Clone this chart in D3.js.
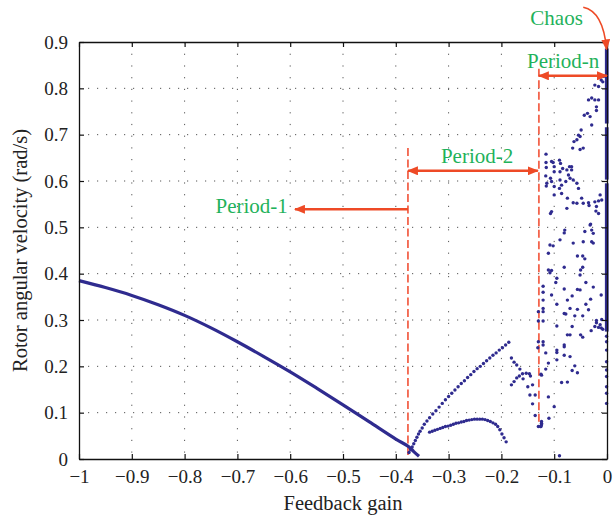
<!DOCTYPE html>
<html>
<head>
<meta charset="utf-8">
<script src="https://cdn.jsdelivr.net/npm/d3@7"></script>
<style>
  body { margin: 0; background: #fff; }
  svg { display: block; }
  svg text { font-family: "Liberation Serif", "Times New Roman", "DejaVu Serif", serif; }
</style>
</head>
<body>
<svg id="chart"></svg>
<script>
// axis ticks
const xTicks = [-1, -0.9, -0.8, -0.7, -0.6, -0.5, -0.4, -0.3, -0.2, -0.1, 0]
const yTicks = [0, 0.1, 0.2, 0.3, 0.4, 0.5, 0.6, 0.7, 0.8, 0.9]

// period-1 branch [gain, speed], sampled densely -> drawn as a thick line
const period1 = [
  [-1, 0.385], [-0.95, 0.370], [-0.9, 0.353], [-0.85, 0.333], [-0.8, 0.310],
  [-0.75, 0.283], [-0.7, 0.253], [-0.65, 0.221], [-0.6, 0.188], [-0.55, 0.153],
  [-0.5, 0.117], [-0.45, 0.080], [-0.4, 0.043], [-0.376, 0.027], [-0.366, 0.016],
  [-0.356, 0.006]
]

// period-2, rising branch
const period2Upper = [
  [-0.375, 0.014], [-0.372, 0.020], [-0.369, 0.026], [-0.366, 0.033], [-0.363, 0.040],
  [-0.360, 0.047], [-0.357, 0.054], [-0.354, 0.060], [-0.350, 0.067], [-0.346, 0.075],
  [-0.341, 0.082], [-0.336, 0.089], [-0.330, 0.097], [-0.324, 0.104], [-0.318, 0.112],
  [-0.312, 0.120], [-0.306, 0.128], [-0.300, 0.135], [-0.294, 0.142], [-0.288, 0.149],
  [-0.282, 0.156], [-0.276, 0.163], [-0.270, 0.169], [-0.264, 0.176], [-0.258, 0.182],
  [-0.252, 0.189], [-0.246, 0.195], [-0.240, 0.200], [-0.234, 0.206], [-0.228, 0.212],
  [-0.222, 0.218], [-0.216, 0.224], [-0.210, 0.229], [-0.204, 0.235], [-0.198, 0.240],
  [-0.192, 0.246], [-0.186, 0.252]
]

// period-2, lower arc
const period2Lower = [
  [-0.336, 0.058], [-0.331, 0.060], [-0.326, 0.062], [-0.321, 0.064], [-0.316, 0.066],
  [-0.311, 0.068], [-0.306, 0.070], [-0.301, 0.071], [-0.296, 0.073], [-0.291, 0.075],
  [-0.286, 0.077], [-0.281, 0.078], [-0.276, 0.080], [-0.271, 0.081], [-0.266, 0.083],
  [-0.261, 0.084], [-0.256, 0.085], [-0.251, 0.086], [-0.246, 0.086], [-0.241, 0.086],
  [-0.236, 0.086], [-0.231, 0.085], [-0.226, 0.083], [-0.221, 0.081], [-0.216, 0.078],
  [-0.211, 0.075], [-0.207, 0.070], [-0.203, 0.063], [-0.199, 0.054], [-0.195, 0.046],
  [-0.191, 0.037]
]

// branches between -0.18 and -0.12
const midBranchA = [
  [-0.181, 0.218], [-0.176, 0.209], [-0.171, 0.203], [-0.165, 0.194], [-0.159, 0.173],
  [-0.150, 0.156], [-0.146, 0.138], [-0.141, 0.119], [-0.136, 0.094], [-0.130, 0.070],
  [-0.125, 0.070], [-0.124, 0.081]
]
const midBranchB = [
  [-0.181, 0.160], [-0.176, 0.167], [-0.171, 0.175], [-0.166, 0.179], [-0.160, 0.184],
  [-0.153, 0.185], [-0.147, 0.184], [-0.145, 0.179], [-0.141, 0.160], [-0.136, 0.138]
]

// period-n / chaos scatter
const chaosPoints = [
  [-0.130, 0.318], [-0.130, 0.298], [-0.130, 0.253], [-0.131, 0.240], [-0.125, 0.183],
  [-0.124, 0.181], [-0.124, 0.077], [-0.124, 0.074], [-0.126, 0.070], [-0.121, 0.373],
  [-0.121, 0.360], [-0.121, 0.343], [-0.121, 0.325], [-0.121, 0.318], [-0.121, 0.298],
  [-0.121, 0.253], [-0.121, 0.246], [-0.1155, 0.658], [-0.1155, 0.640], [-0.115, 0.629],
  [-0.116, 0.611], [-0.114, 0.595], [-0.115, 0.589], [-0.105, 0.642], [-0.102, 0.640],
  [-0.100, 0.631], [-0.100, 0.620], [-0.107, 0.606], [-0.105, 0.599], [-0.100, 0.588],
  [-0.100, 0.570], [-0.090, 0.645], [-0.088, 0.638], [-0.084, 0.627], [-0.089, 0.620],
  [-0.089, 0.602], [-0.086, 0.591], [-0.090, 0.584], [-0.086, 0.573], [-0.076, 0.624],
  [-0.071, 0.631], [-0.067, 0.631], [-0.067, 0.624], [-0.073, 0.613], [-0.070, 0.606],
  [-0.078, 0.599], [-0.075, 0.563], [-0.065, 0.671], [-0.0625, 0.685], [-0.057, 0.689],
  [-0.051, 0.668], [-0.045, 0.671], [-0.054, 0.699], [-0.049, 0.710], [-0.051, 0.696],
  [-0.043, 0.742], [-0.037, 0.746], [-0.032, 0.739], [-0.029, 0.721], [-0.035, 0.775],
  [-0.029, 0.779], [-0.023, 0.775], [-0.016, 0.775], [-0.020, 0.760], [-0.020, 0.752],
  [-0.023, 0.807], [-0.016, 0.804], [-0.011, 0.818], [-0.008, 0.814], [-0.006, 0.826],
  [-0.064, 0.602], [-0.057, 0.595], [-0.054, 0.584], [-0.076, 0.541], [-0.064, 0.553],
  [-0.057, 0.552], [-0.048, 0.563], [-0.045, 0.552], [-0.035, 0.553], [-0.034, 0.547],
  [-0.023, 0.555], [-0.016, 0.557], [-0.010, 0.559], [-0.020, 0.545], [-0.016, 0.530],
  [-0.013, 0.570], [-0.105, 0.534], [-0.107, 0.530], [-0.080, 0.494], [-0.081, 0.488],
  [-0.089, 0.473], [-0.108, 0.462], [-0.102, 0.460], [-0.111, 0.444], [-0.032, 0.505],
  [-0.029, 0.494], [-0.042, 0.491], [-0.045, 0.469], [-0.029, 0.469], [-0.064, 0.466],
  [-0.031, 0.507], [-0.026, 0.487], [-0.026, 0.466], [-0.021, 0.535], [-0.111, 0.408],
  [-0.105, 0.407], [-0.108, 0.402], [-0.095, 0.390], [-0.097, 0.381], [-0.105, 0.354],
  [-0.095, 0.334], [-0.081, 0.414], [-0.056, 0.438], [-0.046, 0.438], [-0.042, 0.432],
  [-0.050, 0.408], [-0.051, 0.397], [-0.046, 0.414], [-0.081, 0.367], [-0.075, 0.343],
  [-0.066, 0.352], [-0.056, 0.366], [-0.051, 0.365], [-0.040, 0.381], [-0.026, 0.371],
  [-0.031, 0.345], [-0.040, 0.334], [-0.035, 0.322], [-0.011, 0.354], [-0.095, 0.287],
  [-0.081, 0.314], [-0.078, 0.313], [-0.070, 0.325], [-0.056, 0.323], [-0.061, 0.309],
  [-0.046, 0.309], [-0.066, 0.286], [-0.075, 0.268], [-0.070, 0.268], [-0.050, 0.268],
  [-0.046, 0.263], [-0.030, 0.277], [-0.020, 0.299], [-0.020, 0.294], [-0.016, 0.284],
  [-0.011, 0.283], [-0.013, 0.290], [-0.023, 0.286], [-0.010, 0.301], [-0.008, 0.280],
  [-0.116, 0.229], [-0.095, 0.235], [-0.095, 0.230], [-0.095, 0.214], [-0.081, 0.246],
  [-0.081, 0.242], [-0.081, 0.224], [-0.070, 0.221], [-0.061, 0.201], [-0.066, 0.191],
  [-0.056, 0.186], [-0.111, 0.207], [-0.116, 0.194], [-0.086, 0.165], [-0.075, 0.166],
  [-0.111, 0.134], [-0.100, 0.113], [-0.110, 0.088], [-0.090, 0.007]
]

// dense chaotic column at gain = 0 : [speed low, speed high]
const chaosBand = [[0.275, 0.595], [0.603, 0.716], [0.724, 0.886]]
const chaosColumnSparse = [0.265, 0.253, 0.235, 0.210, 0.192, 0.178, 0.156, 0.142, 0.120]

// annotation positions (data units)
const boundaryGains = [-0.377, -0.129]
const boundaryTops = [0.671, 0.842]
const boundaryBottoms = [0.008, 0.077]

const dims = {
  width: 528,
  height: 417,
  margin: { top: 42, right: 6, bottom: 58, left: 79 },
}
const serif = "'Liberation Serif', 'Times New Roman', 'DejaVu Serif', serif"
const navy = "#2f2b8f"
const red = "#ee4a26"
const dashRed = "#f3644c"
const green = "#1fb25b"

const svgFrame = d3
  .select("#chart")
  .attr("width", dims.width + dims.margin.left + dims.margin.right)
  .attr("height", dims.height + dims.margin.top + dims.margin.bottom)
  .attr("font-family", serif)

const xScale = d3.scaleLinear().domain([-1, 0]).range([0, dims.width])
const yScale = d3.scaleLinear().domain([0, 0.9]).range([dims.height, 0])
const fmt = d3.format("~f")

const graph = svgFrame
  .append("g")
  .attr("transform", `translate(${dims.margin.left}, ${dims.margin.top})`)

// arrow heads
const defs = svgFrame.append("defs")
defs
  .append("marker")
  .attr("id", "head")
  .attr("markerUnits", "userSpaceOnUse")
  .attr("viewBox", "0 0 11 9")
  .attr("refX", 10)
  .attr("refY", 4.5)
  .attr("markerWidth", 11)
  .attr("markerHeight", 9)
  .attr("orient", "auto-start-reverse")
  .append("path")
  .attr("d", "M0,0 L11,4.5 L0,9 Z")
  .attr("fill", red)

// dotted grid
graph
  .append("g")
  .selectAll("line")
  .data(yTicks.slice(1, -1))
  .join("line")
  .attr("x1", 0)
  .attr("x2", dims.width)
  .attr("y1", (d) => yScale(d))
  .attr("y2", (d) => yScale(d))
  .attr("stroke", "#555")
  .attr("stroke-width", 1)
  .attr("stroke-dasharray", "1.2,7.8")
graph
  .append("g")
  .selectAll("line")
  .data(xTicks.slice(1, -1))
  .join("line")
  .attr("x1", (d) => xScale(d))
  .attr("x2", (d) => xScale(d))
  .attr("y1", 0)
  .attr("y2", dims.height)
  .attr("stroke", "#555")
  .attr("stroke-width", 1)
  .attr("stroke-dasharray", "1.2,10.5")

// boundary dashed lines
graph
  .selectAll(".boundary")
  .data(boundaryGains)
  .join("line")
  .attr("class", "boundary")
  .attr("x1", (d) => xScale(d))
  .attr("x2", (d) => xScale(d))
  .attr("y1", (d, i) => yScale(boundaryTops[i]))
  .attr("y2", (d, i) => yScale(boundaryBottoms[i]))
  .attr("stroke", dashRed)
  .attr("stroke-width", 1.8)
  .attr("stroke-dasharray", "8,3.5")

// period-1 thick line
graph
  .append("path")
  .datum(period1)
  .attr("fill", "none")
  .attr("stroke", navy)
  .attr("stroke-width", 3.2)
  .attr("d", d3.line().x((d) => xScale(d[0])).y((d) => yScale(d[1])).curve(d3.curveCatmullRom))

// scattered points
const allDots = [
  ...period2Upper,
  ...period2Lower,
  ...midBranchA,
  ...midBranchB,
  ...chaosPoints,
  ...chaosColumnSparse.map((v) => [-0.0008, v]),
]
graph
  .selectAll(".dot")
  .data(allDots)
  .join("circle")
  .attr("class", "dot")
  .attr("cx", (d) => xScale(d[0]))
  .attr("cy", (d) => yScale(d[1]))
  .attr("r", 1.7)
  .attr("fill", navy)

// chaotic column
graph
  .selectAll(".band")
  .data(chaosBand)
  .join("rect")
  .attr("class", "band")
  .attr("x", xScale(-0.004))
  .attr("width", xScale(0.003) - xScale(-0.004))
  .attr("y", (d) => yScale(d[1]))
  .attr("height", (d) => yScale(d[0]) - yScale(d[1]))
  .attr("fill", navy)

// axes: ticks pointing inward on all four sides
const styleAxis = (g) => {
  g.attr("font-family", serif).attr("font-size", 19)
  g.select(".domain").attr("stroke", "#111").attr("stroke-width", 1.3)
  g.selectAll(".tick line").attr("stroke", "#111").attr("stroke-width", 1.2)
  g.selectAll("text").attr("fill", "#222")
}
graph
  .append("g")
  .attr("transform", `translate(0, ${dims.height})`)
  .call(d3.axisBottom(xScale).tickValues(xTicks).tickFormat(fmt).tickSizeInner(-5).tickSizeOuter(0).tickPadding(10.5))
  .call(styleAxis)
graph
  .append("g")
  .call(d3.axisLeft(yScale).tickValues(yTicks).tickFormat(fmt).tickSizeInner(-5).tickSizeOuter(0).tickPadding(11))
  .call(styleAxis)
graph
  .append("g")
  .call(d3.axisTop(xScale).tickValues(xTicks).tickFormat("").tickSizeInner(-5).tickSizeOuter(0))
  .call(styleAxis)
graph
  .append("g")
  .attr("transform", `translate(${dims.width}, 0)`)
  .call(d3.axisRight(yScale).tickValues(yTicks).tickFormat("").tickSizeInner(-5).tickSizeOuter(0))
  .call(styleAxis)

// axis titles
svgFrame
  .append("text")
  .attr("x", dims.margin.left + xScale(-0.5))
  .attr("y", 510)
  .attr("text-anchor", "middle")
  .attr("fill", "#222")
  .attr("font-size", 20.5)
  .text("Feedback gain")
svgFrame
  .append("text")
  .attr("transform", `translate(27, ${dims.margin.top + yScale(0.45)}) rotate(-90)`)
  .attr("text-anchor", "middle")
  .attr("fill", "#222")
  .attr("font-size", 20.5)
  .text("Rotor angular velocity (rad/s)")

// region arrows
const arrows = [
  { x1: -0.377, x2: -0.591, y: 0.539, both: false },
  { x1: -0.377, x2: -0.131, y: 0.622, both: true },
  { x1: -0.129, x2: 0, y: 0.827, both: true },
]
graph
  .selectAll(".arrow")
  .data(arrows)
  .join("line")
  .attr("class", "arrow")
  .attr("x1", (d) => xScale(d.x1))
  .attr("x2", (d) => xScale(d.x2))
  .attr("y1", (d) => yScale(d.y))
  .attr("y2", (d) => yScale(d.y))
  .attr("stroke", red)
  .attr("stroke-width", 2.6)
  .attr("marker-end", "url(#head)")
  .attr("marker-start", (d) => (d.both ? "url(#head)" : null))

// chaos curved arrow
const chaosArrow = [[-0.045, 0.975], [-0.007, 0.966], [-0.0008, 0.884]]
graph
  .append("path")
  .attr(
    "d",
    `M${xScale(chaosArrow[0][0])},${yScale(chaosArrow[0][1])} Q${xScale(chaosArrow[1][0])},${yScale(chaosArrow[1][1])} ${xScale(chaosArrow[2][0])},${yScale(chaosArrow[2][1])}`
  )
  .attr("fill", "none")
  .attr("stroke", red)
  .attr("stroke-width", 1.6)
  .attr("marker-end", "url(#head)")

// region labels
const labels = [
  { text: "Period-1", x: -0.673, y: 0.531 },
  { text: "Period-2", x: -0.246, y: 0.639 },
  { text: "Period-n", x: -0.083, y: 0.844 },
  { text: "Chaos", x: -0.0955, y: 0.937 },
]
graph
  .selectAll(".label")
  .data(labels)
  .join("text")
  .attr("class", "label")
  .attr("x", (d) => xScale(d.x))
  .attr("y", (d) => yScale(d.y))
  .attr("text-anchor", "middle")
  .attr("fill", green)
  .attr("font-size", 21)
  .text((d) => d.text)
</script>
</body>
</html>
